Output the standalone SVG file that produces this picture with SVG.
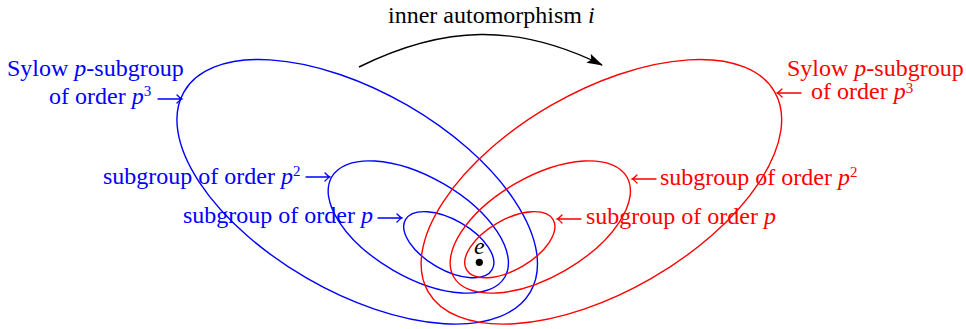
<svg xmlns="http://www.w3.org/2000/svg" width="966" height="329" viewBox="0 0 966 329">
<style>
text{font-family:"Liberation Serif","Times New Roman",serif;font-size:24px}
.b{fill:#0000ff}.r{fill:#ff0000}
.eb{fill:none;stroke:#0000ff;stroke-width:1.4}
.er{fill:none;stroke:#ff0000;stroke-width:1.4}
.ab{fill:none;stroke:#0000ff;stroke-width:1.3;stroke-linecap:round}
.ar{fill:none;stroke:#ff0000;stroke-width:1.3;stroke-linecap:round}
.it{font-style:italic}
.sup{font-size:15px}
</style>
<defs>
<marker id="ah" viewBox="0 0 16 10" refX="15" refY="5" markerWidth="16" markerHeight="10" markerUnits="userSpaceOnUse" orient="auto">
<path d="M0,0 L16,5 L0,10 L3,5 Z" fill="#000"/>
</marker>
<path id="toR" d="M-24,0 H0 M-5,-4 Q-2,-0.8 0,0 Q-2,0.8 -5,4"/>
<path id="toL" d="M24,0 H0 M5,-4 Q2,-0.8 0,0 Q2,0.8 5,4"/>
</defs>
<rect width="966" height="329" fill="#fff"/>
<g id="blue-p3">
<ellipse class="eb" cx="357.2" cy="191.8" rx="200" ry="100" transform="rotate(30 357.2 191.8)"/>
<text class="b" x="7" y="76">Sylow <tspan class="it">p</tspan>-subgroup</text>
<text class="b" x="49" y="104">of order <tspan class="it">p</tspan><tspan class="sup" dy="-8">3</tspan></text>
</g>
<g id="blue-p2">
<ellipse class="eb" cx="418.3" cy="227" rx="100" ry="50" transform="rotate(30 418.3 227)"/>
<text class="b" x="103" y="184">subgroup of order <tspan class="it">p</tspan><tspan class="sup" dy="-8">2</tspan></text>
</g>
<g id="blue-p">
<ellipse class="eb" cx="448.8" cy="244.7" rx="50" ry="25" transform="rotate(30 448.8 244.7)"/>
<text class="b" x="183" y="223">subgroup of order <tspan class="it">p</tspan></text>
</g>
<g id="red-p3">
<ellipse class="er" cx="601.4" cy="191.8" rx="200" ry="100" transform="rotate(-30 601.4 191.8)"/>
<text class="r" x="787" y="76">Sylow <tspan class="it">p</tspan>-subgroup</text>
<text class="r" x="811" y="99">of order <tspan class="it">p</tspan><tspan class="sup" dy="-6.5">3</tspan></text>
</g>
<g id="red-p2">
<ellipse class="er" cx="540.3" cy="227" rx="100" ry="50" transform="rotate(-30 540.3 227)"/>
<text class="r" x="660" y="185">subgroup of order <tspan class="it">p</tspan><tspan class="sup" dy="-8">2</tspan></text>
</g>
<g id="red-p">
<ellipse class="er" cx="509.8" cy="244.7" rx="50" ry="25" transform="rotate(-30 509.8 244.7)"/>
<text class="r" x="586" y="224">subgroup of order <tspan class="it">p</tspan></text>
</g>
<g id="identity">
<circle cx="479.3" cy="262.3" r="3.6" fill="#000"/>
<text x="479.3" y="254" text-anchor="middle" class="it">e</text>
</g>
<g id="automorphism-label">
<text x="388" y="23">inner automorphism <tspan class="it">i</tspan></text>
</g>
<g id="connectors">
<path d="M359,67 C444,25 517,23 602,65" fill="none" stroke="#000" stroke-width="1.4" marker-end="url(#ah)"/>
<use href="#toR" class="ab" transform="translate(182 99)"/>
<use href="#toR" class="ab" transform="translate(330 177)"/>
<use href="#toR" class="ab" transform="translate(402 218)"/>
<use href="#toL" class="ar" transform="translate(777 93)"/>
<use href="#toL" class="ar" transform="translate(632 179)"/>
<use href="#toL" class="ar" transform="translate(557 219)"/>
</g>
</svg>
